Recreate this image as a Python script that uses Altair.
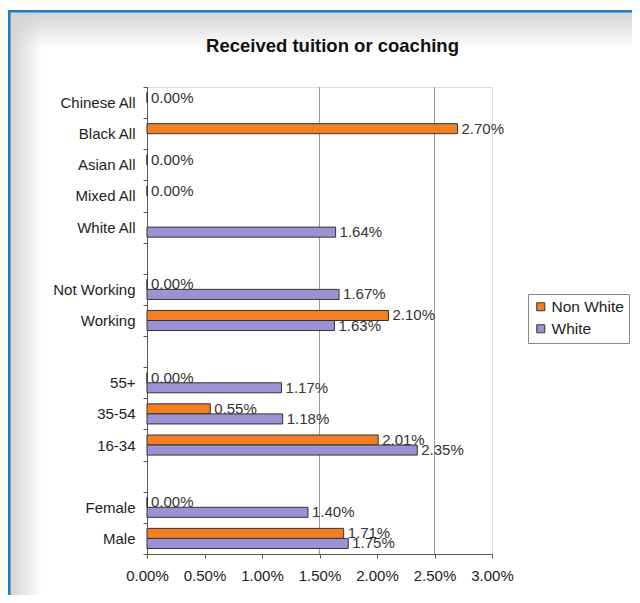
import altair as alt
import pandas as pd

# ---- data ----
title_text = "Received tuition or coaching"
categories = ["Chinese All", "Black All", "Asian All", "Mixed All", "White All", " ",
              "Not Working", "Working", "  ",
              "55+", "35-54", "16-34", "   ",
              "Female", "Male"]
non_white = [0.00, 2.70, 0.00, 0.00, None, None, 0.00, 2.10, None, 0.00, 0.55, 2.01, None, 0.00, 1.71]
white = [None, None, None, None, 1.64, None, 1.67, 1.63, None, 1.17, 1.18, 2.35, None, 1.40, 1.75]
series_names = ["Non White", "White"]
series_colors = ["#F28022", "#9A93D3"]
x_ticks = [0, 0.5, 1.0, 1.5, 2.0, 2.5, 3.0]
grid_values = [1.5, 2.5]

rows = []
for c, nw, w in zip(categories, non_white, white):
    if nw is not None:
        rows.append({"category": c, "series": "Non White", "value": nw})
    if w is not None:
        rows.append({"category": c, "series": "White", "value": w})
df = pd.DataFrame(rows)

W, H = 345, 467
FONT = "Liberation Sans"
FS = 15
PAD_L, PAD_T, PAD_R, PAD_B = 139, 79, 140, 41

y_enc = alt.Y(
    "category:N",
    scale=alt.Scale(domain=categories, paddingInner=0, paddingOuter=0),
    axis=alt.Axis(title=None, tickBand="extent", ticks=True, tickSize=4, labelPadding=8,
                  domainColor="#555", tickColor="#555", labelFontSize=FS,
                  labelColor="#222", labelFont=FONT, labelOverlap=False),
)
yoff = alt.YOffset("series:N", scale=alt.Scale(domain=series_names, paddingInner=0, paddingOuter=0.55))
x_enc = alt.X(
    "value:Q",
    scale=alt.Scale(domain=[0, 3], nice=False),
    axis=alt.Axis(title=None, values=x_ticks, labelExpr="format(datum.value, '.2f') + '%'",
                  grid=False, tickSize=4, labelPadding=10, domainColor="#555", tickColor="#555",
                  labelFontSize=FS, labelColor="#222", labelFont=FONT, labelOverlap=False,
                  labelFlush=False),
)

base = alt.Chart(df)

bars = base.mark_bar(stroke="#333", strokeWidth=1).encode(
    x=x_enc,
    y=y_enc,
    yOffset=yoff,
    color=alt.Color(
        "series:N",
        scale=alt.Scale(domain=series_names, range=series_colors),
        legend=alt.Legend(title=None, orient="none", legendX=381, legendY=207,
                          strokeColor="#888", fillColor="white", padding=5,
                          symbolType="square", symbolSize=64, symbolStrokeColor="#333",
                          symbolStrokeWidth=1, labelFontSize=15.5, labelFont=FONT,
                          labelColor="#222", rowPadding=5, labelOffset=3),
    ),
)

labels = base.transform_calculate(
    label="format(datum.value, '.2f') + '%'"
).mark_text(align="left", baseline="middle", dx=4, fontSize=FS, font=FONT, color="#333").encode(
    x=alt.X("value:Q"),
    y=alt.Y("category:N"),
    yOffset=alt.YOffset("series:N"),
    text="label:N",
)

grid = alt.Chart(pd.DataFrame({"g": grid_values})).mark_rule(color="#999", strokeWidth=1).encode(
    x=alt.X("g:Q")
)

one = pd.DataFrame({"k": [0]})
left_shadow = alt.Chart(one).mark_rect(
    fill=alt.LinearGradient(gradient="linear", x1=0, x2=1, y1=0, y2=0,
                            stops=[alt.GradientStop(color="rgba(210,210,210,1)", offset=0),
                                   alt.GradientStop(color="rgba(210,210,210,0)", offset=1)])
).encode(x=alt.value(-PAD_L + 2), x2=alt.value(-PAD_L + 34), y=alt.value(-PAD_T + 4), y2=alt.value(H + PAD_B))
top_shadow = alt.Chart(one).mark_rect(
    fill=alt.LinearGradient(gradient="linear", x1=0, x2=0, y1=0, y2=1,
                            stops=[alt.GradientStop(color="rgba(210,210,210,1)", offset=0),
                                   alt.GradientStop(color="rgba(210,210,210,0)", offset=1)])
).encode(x=alt.value(-PAD_L + 2), x2=alt.value(W + PAD_R), y=alt.value(-PAD_T + 4), y2=alt.value(-PAD_T + 40))
top_line = alt.Chart(one).mark_rect(color="#1A7BC8").encode(
    x=alt.value(-PAD_L), x2=alt.value(W + PAD_R), y=alt.value(-PAD_T + 2), y2=alt.value(-PAD_T + 4.5))
left_line = alt.Chart(one).mark_rect(color="#1A7BC8").encode(
    x=alt.value(-PAD_L), x2=alt.value(-PAD_L + 2.5), y=alt.value(-PAD_T + 2), y2=alt.value(H + PAD_B))

title = alt.Chart(pd.DataFrame({"t": [title_text]})).mark_text(
    fontSize=18.5, font=FONT, fontWeight="bold", color="#111", align="center", baseline="middle"
).encode(text="t:N", x=alt.value(W / 2 + 13), y=alt.value(-41))

chart = alt.layer(left_shadow, top_shadow, top_line, left_line, title, grid, bars, labels).properties(
    width=W,
    height=H,
    autosize=alt.AutoSizeParams(type="none"),
    padding={"left": PAD_L, "top": PAD_T, "right": PAD_R, "bottom": PAD_B},
).configure_view(stroke="#999", strokeWidth=1).configure(background="white")

chart.save("out.html", embed_options={"renderer": "svg", "actions": False})
